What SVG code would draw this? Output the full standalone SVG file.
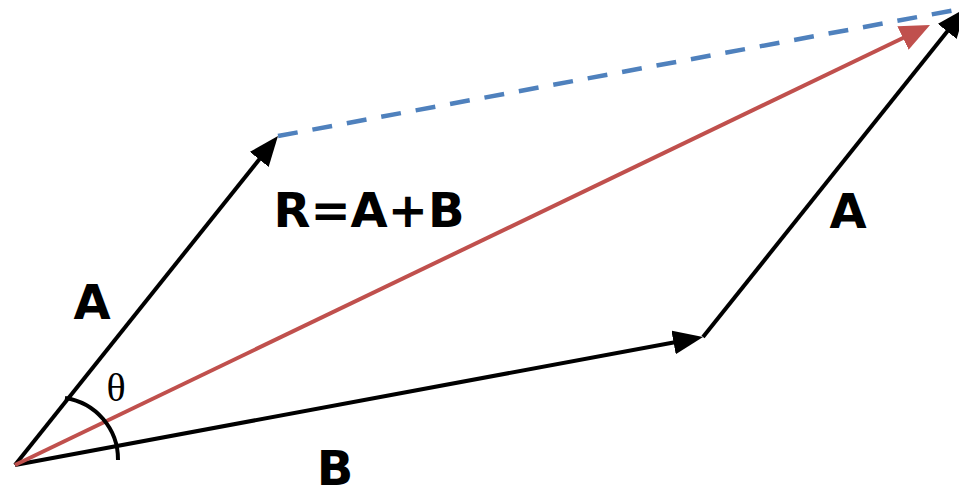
<svg xmlns="http://www.w3.org/2000/svg" width="959" height="490" viewBox="0 0 959 490">
<defs>
<style>
.vec{fill:none;stroke-width:4;stroke-linecap:butt}
.blk{stroke:#000}
.red{stroke:#C0504D}
.dash{fill:none;stroke:#4F81BD;stroke-width:4.5;stroke-dasharray:20 15}
.lbl{font-family:"DejaVu Sans",Verdana,sans-serif;font-weight:bold;font-size:48px;fill:#000;text-anchor:middle}
.th{font-family:"Liberation Serif","Times New Roman",serif;font-size:40px;fill:#000;text-anchor:middle}
</style>
<marker id="ahB" viewBox="0 0 30 24" markerUnits="userSpaceOnUse" markerWidth="30" markerHeight="24" refX="15" refY="12" orient="auto"><path d="M0,0 L30,12 L0,24 z" fill="#000"/></marker>
<marker id="ahR" viewBox="0 0 30 26" markerUnits="userSpaceOnUse" markerWidth="30" markerHeight="26" refX="15" refY="13" orient="auto"><path d="M0,0 L30,13 L0,26 z" fill="#C0504D"/></marker>
</defs>
<rect width="959" height="490" fill="#fff"/>
<g id="connectors">
<line class="dash" x1="278" y1="136" x2="966" y2="8"/>
<line id="vecA1" class="vec blk" x1="15" y1="465" x2="268.6" y2="147.7" marker-end="url(#ahB)"/>
<line id="vecB" class="vec blk" x1="15" y1="465" x2="688.3" y2="339.7" marker-end="url(#ahB)"/>
<line id="vecA2" class="vec blk" x1="703" y1="337" x2="956.6" y2="19.7" marker-end="url(#ahB)"/>
<line id="vecR" class="vec red" x1="15" y1="465" x2="916.5" y2="31.5" marker-end="url(#ahR)"/>
<path id="arc" class="vec blk" stroke-width="3" d="M65,398 A62,62 0 0 1 118,460"/>
</g>
<g id="labels">
<text class="lbl" x="369" y="227">R=A+B</text>
<text class="lbl" x="92" y="319">A</text>
<text class="lbl" x="848" y="228">A</text>
<text class="lbl" x="335" y="485">B</text>
<text class="th" x="116" y="401">θ</text>
</g>
</svg>
